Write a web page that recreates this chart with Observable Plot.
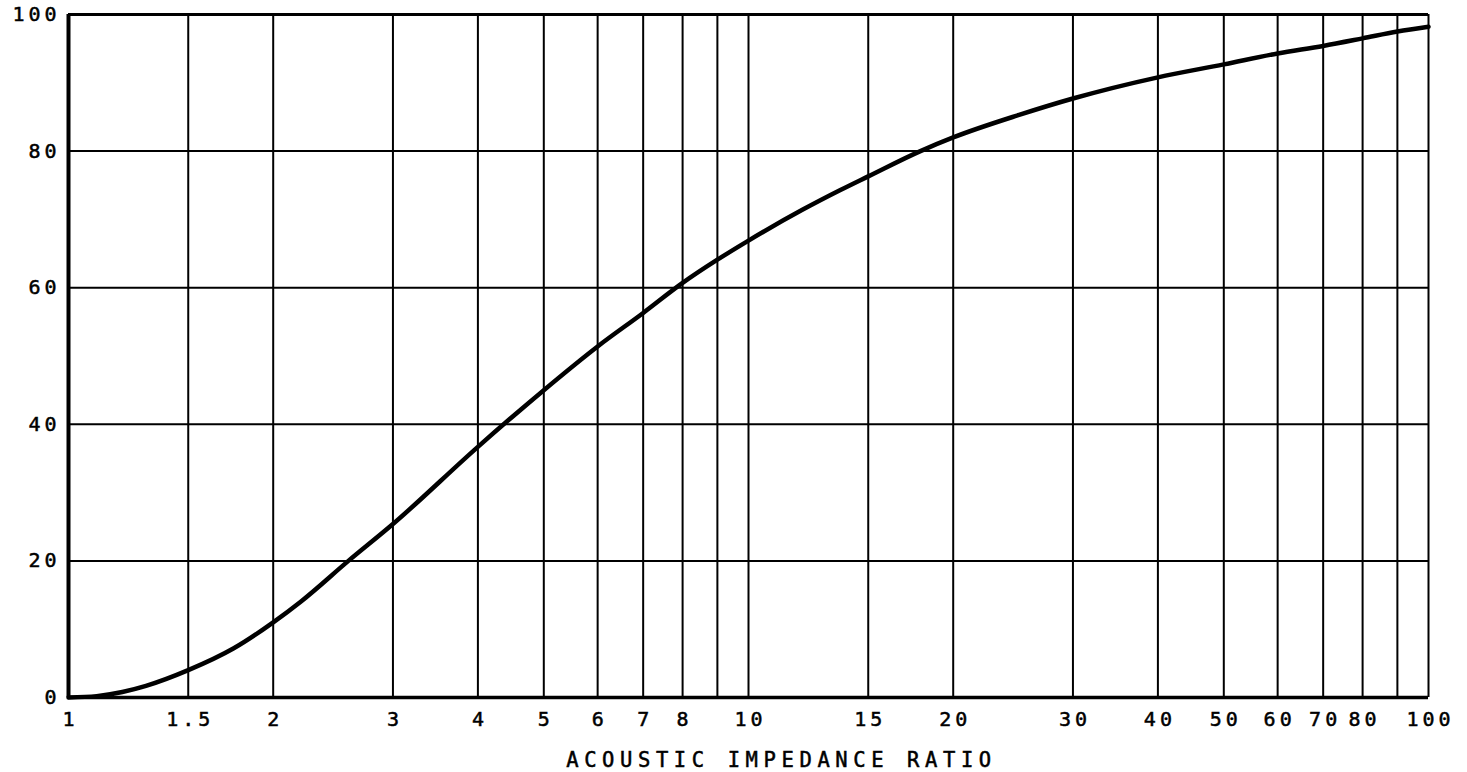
<!DOCTYPE html>
<html><head><meta charset="utf-8">
<script src="https://cdn.jsdelivr.net/npm/d3@7"></script>
<script src="https://cdn.jsdelivr.net/npm/@observablehq/plot@0.6"></script>
<style>html,body{margin:0;padding:0;background:#fff;}</style>
</head><body><div id="chart"></div>
<script>
const ratio = [1, 1.1, 1.2, 1.3, 1.5, 1.75, 2, 2.2, 2.58, 3, 4, 5, 6, 7, 8, 9, 10, 12, 13.65, 15, 17.9, 20, 25, 30, 40, 50, 60, 70, 80, 90, 100];
const reflected = [0, 0.2, 0.8, 1.7, 4.0, 7.2, 11.0, 14.1, 20, 25.4, 36.7, 45.0, 51.4, 56.3, 60.7, 64.1, 66.9, 71.4, 74.3, 76.3, 80, 82.0, 85.3, 87.7, 90.8, 92.7, 94.3, 95.4, 96.5, 97.5, 98.2];
const xGrid = [1, 1.5, 2, 3, 4, 5, 6, 7, 8, 9, 10, 15, 20, 30, 40, 50, 60, 70, 80, 90, 100];
const xTickLabels = [1, 1.5, 2, 3, 4, 5, 6, 7, 8, 9, 10, 15, 20, 30, 40, 50, 60, 70, 80, 100];
const yGrid = [0, 20, 40, 60, 80, 100];
const xTitle = "ACOUSTIC IMPEDANCE RATIO";

const data = ratio.map((r, i) => ({r, v: reflected[i]}));

const chart = Plot.plot({
  width: 1467, height: 772,
  marginLeft: 68, marginRight: 39, marginTop: 14, marginBottom: 75,
  x: {type: "log", domain: [1, 100]},
  y: {domain: [0, 100]},
  style: {fontFamily: "DejaVu Sans Mono", letterSpacing: "4px", color: "#000", background: "#fff"},
  marks: [
    Plot.ruleX(xGrid, {stroke: "#000", strokeWidth: 2}),
    Plot.ruleY(yGrid, {stroke: "#000", strokeWidth: 2}),
    Plot.ruleX([1], {stroke: "#000", strokeWidth: 4}),
    Plot.ruleY([0], {stroke: "#000", strokeWidth: 3.5}),
    Plot.ruleY([100], {stroke: "#000", strokeWidth: 3}),
    Plot.line(data, {x: "r", y: "v", curve: "monotone-x", stroke: "#000", strokeWidth: 4.5}),
    Plot.axisX(xTickLabels, {tickSize: 0, tickPadding: 14, fontSize: 20, dx: 2, tickFormat: d => String(d), label: null}),
    Plot.axisY(yGrid, {tickSize: 0, tickPadding: 8, fontSize: 20, label: null}),
    Plot.text([xTitle], {frameAnchor: "bottom", lineAnchor: "middle", dy: 62.5, dx: 33, fontSize: 20.5, fill: "#000"})
  ]
});
d3.select(chart).selectAll("text").style("stroke", "#000").style("stroke-width", "0.5px");
d3.select(chart).selectAll("text").filter(function() { return this.textContent === xTitle; }).style("letter-spacing", "5.6px");
document.getElementById("chart").appendChild(chart);
</script>
</body></html>
